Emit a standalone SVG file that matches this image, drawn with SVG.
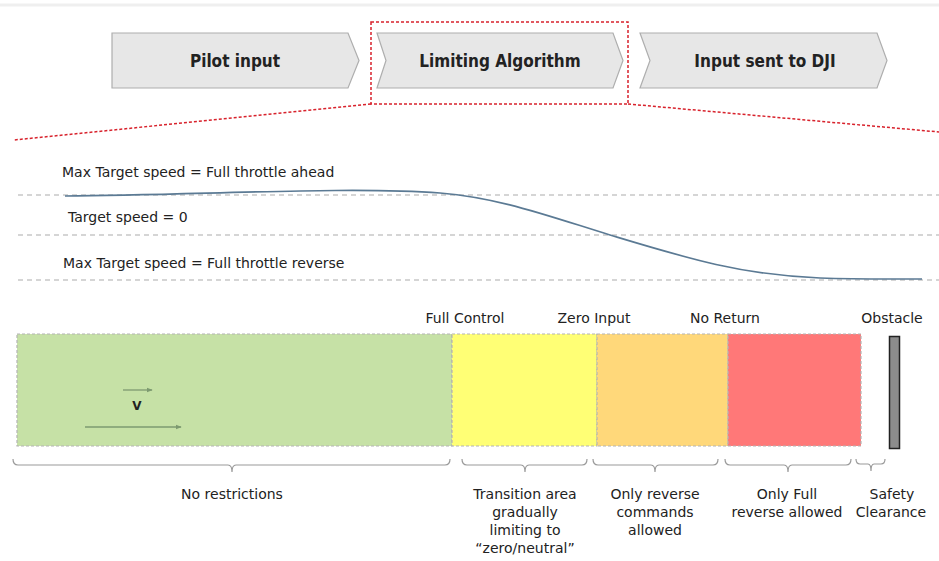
<svg xmlns="http://www.w3.org/2000/svg" width="939" height="561" viewBox="0 0 939 561">
  <style>
    text { font-family: "DejaVu Sans", sans-serif; fill: #222; }
    .step { fill: #e7e7e7; stroke: #aeaeae; stroke-width: 1.2; }
    .step-label { font-family: "DejaVu Sans Condensed", "DejaVu Sans", sans-serif; font-size: 17px; font-weight: bold; text-anchor: middle; }
    .zoom { fill: none; stroke: #d8222c; stroke-width: 1.5; stroke-dasharray: 3 2; }
    .level { stroke: #ababab; stroke-width: 1.2; stroke-dasharray: 5 4; }
    .chart-label { font-size: 14px; }
    .zone { stroke: #b4b4b4; stroke-width: 1.2; stroke-dasharray: 3 2; }
    .zone-label { font-size: 14px; text-anchor: middle; }
    .brace { fill: none; stroke: #9a9a9a; stroke-width: 1.2; }
    .desc { font-size: 14px; text-anchor: middle; }
    .vel { stroke: #7d9a70; stroke-width: 1.3; marker-end: url(#vhead); }
  </style>
  <defs>
    <marker id="vhead" viewBox="0 0 8 8" refX="7" refY="4" markerWidth="6" markerHeight="6" markerUnits="userSpaceOnUse" orient="auto">
      <path d="M0,1 L8,4 L0,7 Z" fill="#7d9a70"/>
    </marker>
  </defs>

  <rect width="939" height="561" fill="#ffffff"/>
  <line x1="0" y1="5" x2="939" y2="5" stroke="#efefef" stroke-width="3"/>

  <!-- process steps -->
  <g id="step-pilot">
    <path class="step" d="M112,33 H348 L359,60.5 L348,88 H112 Z"/>
    <text class="step-label" x="235" y="67">Pilot input</text>
  </g>
  <g id="step-limiting">
    <path class="step" d="M377,33 H613 L623,60.5 L613,88 H377 L386,60.5 Z"/>
    <text class="step-label" x="500" y="67">Limiting Algorithm</text>
  </g>
  <g id="step-dji">
    <path class="step" d="M640,33 H877 L887,60.5 L877,88 H640 L650,60.5 Z"/>
    <text class="step-label" x="765" y="67">Input sent to DJI</text>
  </g>

  <!-- zoom frame around the limiting step -->
  <g id="zoom-frame">
    <rect class="zoom" x="371" y="22" width="257" height="82"/>
    <line class="zoom" x1="371" y1="104" x2="14" y2="140"/>
    <line class="zoom" x1="628" y1="104" x2="939" y2="132"/>
  </g>

  <!-- target speed chart -->
  <g id="speed-chart">
    <line class="level" x1="18" y1="195" x2="939" y2="195"/>
    <line class="level" x1="18" y1="235" x2="939" y2="235"/>
    <line class="level" x1="18" y1="280" x2="939" y2="280"/>
    <text class="chart-label" x="62" y="177">Max Target speed = Full throttle ahead</text>
    <text class="chart-label" x="68" y="222">Target speed = 0</text>
    <text class="chart-label" x="63" y="268">Max Target speed = Full throttle reverse</text>
    <path d="M65,196 C200,195 350,186 440,193 C500,198 545,215 610,235 C683,257 740,275 820,278 C860,279.5 890,279 922,279"
          fill="none" stroke="#5b7a94" stroke-width="1.6"/>
  </g>

  <!-- zones -->
  <g id="zone-free">
    <rect class="zone" x="17" y="334" width="435" height="112" fill="#c6e1a6"/>
    <line class="vel" x1="123" y1="390" x2="152" y2="390"/>
    <text x="137" y="410" font-size="12" font-weight="bold" text-anchor="middle">V</text>
    <line class="vel" x1="85" y1="427" x2="181" y2="427"/>
  </g>
  <g id="zone-transition">
    <rect class="zone" x="452" y="334" width="145" height="112" fill="#ffff75"/>
    <text class="zone-label" x="465" y="323">Full Control</text>
  </g>
  <g id="zone-reverse">
    <rect class="zone" x="597" y="334" width="131" height="112" fill="#ffd87a"/>
    <text class="zone-label" x="594" y="323">Zero Input</text>
  </g>
  <g id="zone-full-reverse">
    <rect class="zone" x="728" y="334" width="133" height="112" fill="#ff7878"/>
    <text class="zone-label" x="725" y="323">No Return</text>
  </g>
  <g id="obstacle">
    <rect x="889.5" y="336.5" width="10" height="112" fill="#8c8c8c" stroke="#222" stroke-width="1.5"/>
    <text class="zone-label" x="892" y="323">Obstacle</text>
  </g>

  <!-- braces and descriptions -->
  <g id="braces">
    <path class="brace" d="M13,459 Q13,465 18,465 H228 Q232,465 232,472 Q232,465 236,465 H445 Q450,465 450,459"/>
    <path class="brace" d="M462,459 Q462,465 467,465 H521 Q525,465 525,472 Q525,465 529,465 H582 Q587,465 587,459"/>
    <path class="brace" d="M593,459 Q593,465 598,465 H651 Q655,465 655,472 Q655,465 659,465 H713 Q718,465 718,459"/>
    <path class="brace" d="M725,459 Q725,465 730,465 H784 Q788,465 788,472 Q788,465 792,465 H846 Q851,465 851,459"/>
    <path class="brace" d="M856,459 Q856,464 860,464 H868 Q871,464 871,471 Q871,464 874,464 H881 Q885,464 885,459"/>
  </g>
  <g id="descriptions">
    <text class="desc" x="232" y="499">No restrictions</text>
    <text class="desc" x="525" y="499">Transition area</text>
    <text class="desc" x="525" y="517">gradually</text>
    <text class="desc" x="525" y="535">limiting to</text>
    <text class="desc" x="525" y="553">“zero/neutral”</text>
    <text class="desc" x="655" y="499">Only reverse</text>
    <text class="desc" x="655" y="517">commands</text>
    <text class="desc" x="655" y="535">allowed</text>
    <text class="desc" x="787" y="499">Only Full</text>
    <text class="desc" x="787" y="517">reverse allowed</text>
    <text class="desc" x="892" y="499">Safety</text>
    <text class="desc" x="891" y="517">Clearance</text>
  </g>
</svg>
